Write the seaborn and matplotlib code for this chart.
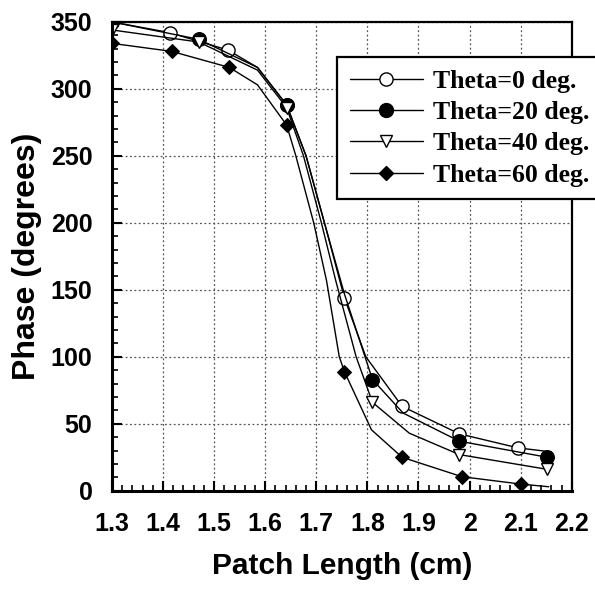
import matplotlib
matplotlib.use("Agg")
import matplotlib.pyplot as plt
from matplotlib.lines import Line2D
from matplotlib.ticker import MultipleLocator
import seaborn as sns
import pandas as pd

# ---- data ----
x_t0 = [1.30, 1.413, 1.527, 1.585, 1.642, 1.68, 1.716, 1.755, 1.797, 1.868, 1.98, 2.095, 2.16]
y_t0 = [350, 342, 329, 316, 288, 250, 200, 144, 100, 63, 42.5, 32, 29]
mk_t0 = [0, 1, 2, 4, 7, 9, 10, 11]

x_t20 = [1.30, 1.47, 1.585, 1.642, 1.68, 1.716, 1.755, 1.81, 1.87, 1.98, 2.152]
y_t20 = [350, 337, 316, 288, 250, 200, 147, 83, 58, 37, 25]
mk_t20 = [0, 1, 3, 7, 9, 10]

x_t40 = [1.30, 1.47, 1.585, 1.642, 1.675, 1.71, 1.738, 1.778, 1.81, 1.882, 1.98, 2.152]
y_t40 = [344, 335, 314, 286, 250, 200, 157, 100, 66, 43, 27, 16]
mk_t40 = [0, 1, 3, 8, 10, 11]

x_t60 = [1.30, 1.417, 1.53, 1.585, 1.642, 1.66, 1.695, 1.72, 1.745, 1.755, 1.808, 1.868, 1.985, 2.1, 2.155]
y_t60 = [334, 328, 316, 303, 273, 250, 200, 157, 100, 89, 45.5, 25, 10.5, 5, 3]
mk_t60 = [0, 1, 2, 4, 9, 11, 12, 13]

labels = ["Theta=0 deg.", "Theta=20 deg.", "Theta=40 deg.", "Theta=60 deg."]
x_ticks = [1.3, 1.4, 1.5, 1.6, 1.7, 1.8, 1.9, 2.0, 2.1, 2.2]
x_tick_labels = ["1.3", "1.4", "1.5", "1.6", "1.7", "1.8", "1.9", "2", "2.1", "2.2"]
y_ticks = [0, 50, 100, 150, 200, 250, 300, 350]

sns.set_style("ticks")
plt.rcParams["font.family"] = ["Liberation Sans", "DejaVu Sans"]
plt.rcParams["text.color"] = "black"
plt.rcParams["axes.labelcolor"] = "black"
plt.rcParams["xtick.color"] = "black"
plt.rcParams["ytick.color"] = "black"

fig = plt.figure(figsize=(5.95, 5.92), dpi=100)
ax = fig.add_axes([0.188, 0.171, 0.773, 0.792])

series = [
    (x_t0, y_t0, mk_t0, dict(marker="o", markerfacecolor="white", markeredgecolor="black", markersize=9.5, markeredgewidth=1.0)),
    (x_t20, y_t20, mk_t20, dict(marker="o", markerfacecolor="black", markeredgecolor="black", markersize=10)),
    (x_t40, y_t40, mk_t40, dict(marker="v", markerfacecolor="white", markeredgecolor="black", markersize=9, markeredgewidth=1.0)),
    (x_t60, y_t60, mk_t60, dict(marker="D", markerfacecolor="black", markeredgecolor="black", markersize=7.5)),
]

handles = []
for (xs, ys, mk, style), lab in zip(series, labels):
    df = pd.DataFrame({"x": xs, "y": ys})
    sns.lineplot(data=df, x="x", y="y", ax=ax, color="black", linewidth=1.0,
                 estimator=None, sort=False, markevery=mk, **style)
    handles.append(Line2D([0], [0], color="black", linewidth=1.0, **style))

ax.set_xlim(1.3, 2.2)
ax.set_ylim(0, 350)
ax.set_xticks(x_ticks)
ax.set_xticklabels(x_tick_labels)
ax.set_yticks(y_ticks)
ax.xaxis.set_minor_locator(MultipleLocator(0.02))
ax.yaxis.set_minor_locator(MultipleLocator(10))
ax.tick_params(axis="both", which="major", direction="in", length=7, width=1.5,
               labelsize=18, colors="black")
ax.tick_params(axis="x", which="major", pad=15)
ax.tick_params(axis="y", which="major", pad=14)
ax.tick_params(axis="both", which="minor", direction="in", length=4, width=1.2, colors="black")
for lab in ax.get_xticklabels() + ax.get_yticklabels():
    lab.set_fontweight("bold")

ax.grid(True, which="major", color="#555555", linestyle=(0, (1.5, 2.0)), linewidth=0.9)
for s in ["left", "bottom"]:
    ax.spines[s].set_linewidth(2.2)
for s in ["top", "right"]:
    ax.spines[s].set_linewidth(1.6)
for s in ax.spines.values():
    s.set_color("black")

ax.set_xlabel("Patch Length (cm)", fontsize=21.5, fontweight="bold", labelpad=12, color="black")
ax.set_ylabel("Phase (degrees)", fontsize=23, fontweight="bold", labelpad=6, color="black")

leg = ax.legend(handles, labels, loc="upper left", bbox_to_anchor=(0.489, 0.925),
                frameon=True, fancybox=False, handlelength=2.85, handletextpad=0.4,
                borderpad=0.5, labelspacing=0.32, borderaxespad=0,
                prop={"family": "Liberation Serif", "weight": "bold", "size": 18.5})
leg.get_frame().set_edgecolor("black")
leg.get_frame().set_linewidth(1.6)
leg.get_frame().set_alpha(1)
leg.set_clip_on(False)
for t in leg.get_texts():
    t.set_color("black")

fig.savefig("out.png", dpi=100)
